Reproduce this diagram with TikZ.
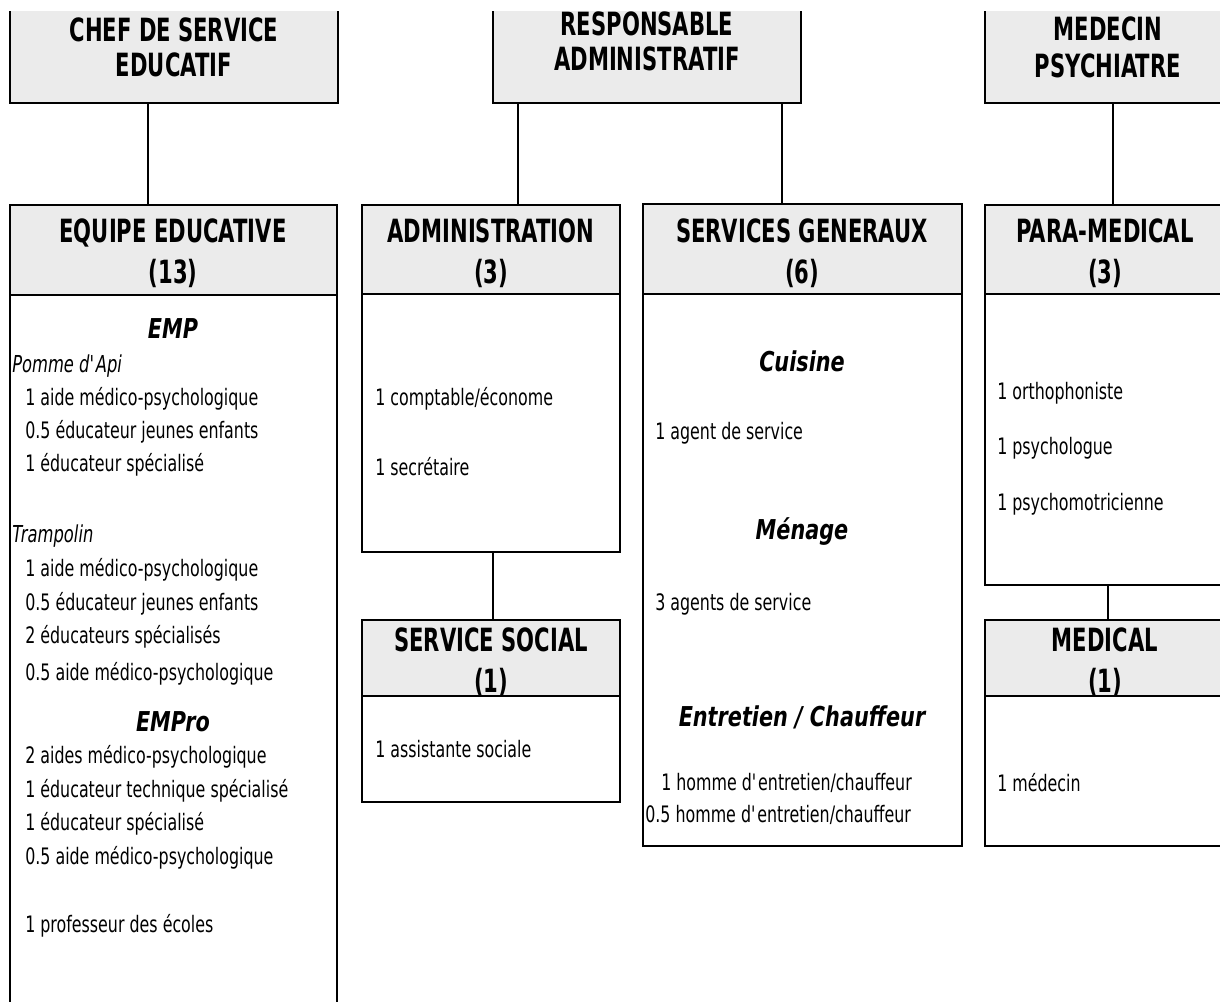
\documentclass[tikz,border=0pt]{standalone}
\usepackage{fontspec}
\setmainfont{DejaVu Sans}[FakeStretch=0.7]
\newfontfamily\hdfont{DejaVu Sans}[FakeStretch=0.66]
\newfontfamily\sbfont{DejaVu Sans}[FakeStretch=0.76]
\begin{document}
\begin{tikzpicture}[x=0.75pt,y=-0.75pt,
  hdr/.style={draw, line width=1.8pt, fill=gray!16, inner sep=0pt, outer sep=0pt},
  bodybox/.style={draw, line width=1.8pt, inner sep=0pt, outer sep=0pt},
  conn/.style={line width=1.1pt},
  htxt/.style={font=\hdfont\bfseries\fontsize{24}{28}\selectfont, anchor=base, inner sep=0pt},
  subhd/.style={font=\sbfont\bfseries\itshape\fontsize{20.5}{24}\selectfont, anchor=base, inner sep=0pt},
  item/.style={font=\fontsize{17}{20}\selectfont, anchor=base west, inner sep=0pt},
  grp/.style={font=\itshape\fontsize{17.5}{20}\selectfont, anchor=base west, inner sep=0pt}]
\newcommand\bx[6]{\node[#2, minimum width={(#5-#3)*0.75pt}, minimum height={(#6-#4)*0.75pt}] (#1) at ({(#3+#5)/2},{(#4+#6)/2}) {};}
\useasboundingbox (0,0) rectangle (1220,1002);
\clip (0,12) rectangle (1220,1002);
% top boxes
\bx{chef}{hdr}{10}{-20}{338}{103}
\bx{resp}{hdr}{493}{-20}{801}{103}
\bx{medpsy}{hdr}{985}{-20}{1240}{103}
\node[htxt] (chefA) at (174,42) {CHEF DE SERVICE};
\node[htxt] (chefB) at (174,77) {EDUCATIF};
\node[htxt] (respA) at (647,36) {RESPONSABLE};
\node[htxt] (respB) at (647,71) {ADMINISTRATIF};
\node[htxt] (medA) at (1108,41) {MEDECIN};
\node[htxt] (medB) at (1108,78) {PSYCHIATRE};
% department boxes
\bx{eqH}{hdr}{10}{205}{337}{295}
\bx{eqB}{bodybox}{10}{295}{337}{1020}
\bx{admH}{hdr}{362}{205}{620}{294}
\bx{admB}{bodybox}{362}{294}{620}{552}
\bx{ssH}{hdr}{362}{620}{620}{696}
\bx{ssB}{bodybox}{362}{696}{620}{802}
\bx{sgH}{hdr}{643}{204}{962}{294}
\bx{sgB}{bodybox}{643}{294}{962}{846}
\bx{pmH}{hdr}{985}{205}{1240}{294}
\bx{pmB}{bodybox}{985}{294}{1240}{585}
\bx{mdH}{hdr}{985}{620}{1240}{696}
\bx{mdB}{bodybox}{985}{696}{1240}{846}
% connectors
\coordinate (c148) at (148,0);
\coordinate (c518) at (518,0);
\coordinate (c782) at (782,0);
\coordinate (c1113) at (1113,0);
\coordinate (c493) at (493,0);
\coordinate (c1108) at (1108,0);
\draw[conn] (chef.south -| c148) -- (eqH.north -| c148);
\draw[conn] (resp.south -| c518) -- (admH.north -| c518);
\draw[conn] (resp.south -| c782) -- (sgH.north -| c782);
\draw[conn] (medpsy.south -| c1113) -- (pmH.north -| c1113);
\draw[conn] (admB.south -| c493) -- (ssH.north -| c493);
\draw[conn] (pmB.south -| c1108) -- (mdH.north -| c1108);
% header texts
\node[htxt] (eqT1) at (173,242) {EQUIPE EDUCATIVE};
\node[htxt] (eqT2) at (173,283) {(13)};
\node[htxt] (admT1) at (491,242) {ADMINISTRATION};
\node[htxt] (admT2) at (491,283) {(3)};
\node[htxt] (sgT1) at (802,242) {SERVICES GENERAUX};
\node[htxt] (sgT2) at (802,283) {(6)};
\node[htxt] (pmT1) at (1105,242) {PARA-MEDICAL};
\node[htxt] (pmT2) at (1105,283) {(3)};
\node[htxt] (ssT1) at (491,651) {SERVICE SOCIAL};
\node[htxt] (ssT2) at (491,692) {(1)};
\node[htxt] (mdT1) at (1105,651) {MEDICAL};
\node[htxt] (mdT2) at (1105,692) {(1)};
% equipe educative body
\node[subhd] (emp) at (173,338) {EMP};
\node[grp] (pomme) at (12,372) {Pomme d\textquotesingle Api};
\node[item] (e1) at (25,405) {1 aide médico-psychologique};
\node[item] (e2) at (25,438) {0.5 éducateur jeunes enfants};
\node[item] (e3) at (25,471) {1 éducateur spécialisé};
\node[grp] (tramp) at (12,542) {Trampolin};
\node[item] (e4) at (25,576) {1 aide médico-psychologique};
\node[item] (e5) at (25,610) {0.5 éducateur jeunes enfants};
\node[item] (e6) at (25,643) {2 éducateurs spécialisés};
\node[item] (e7) at (25,680) {0.5 aide médico-psychologique};
\node[subhd] (empro) at (173,731) {EMPro};
\node[item] (e8) at (25,763) {2 aides médico-psychologique};
\node[item] (e9) at (25,797) {1 éducateur technique spécialisé};
\node[item] (e10) at (25,830) {1 éducateur spécialisé};
\node[item] (e11) at (25,864) {0.5 aide médico-psychologique};
\node[item] (e12) at (25,932) {1 professeur des écoles};
% administration
\node[item] (a1) at (375,405) {1 comptable/économe};
\node[item] (a2) at (375,475) {1 secrétaire};
\node[item] (s1) at (375,757) {1 assistante sociale};
% services generaux
\node[subhd] (cuis) at (802,371) {Cuisine};
\node[item] (g1) at (655,439) {1 agent de service};
\node[subhd] (men) at (802,539) {Ménage};
\node[item] (g2) at (655,610) {3 agents de service};
\node[subhd] (entr) at (802,726) {Entretien / Chauffeur};
\node[item] (g3) at (661,790) {1 homme d\textquotesingle entretien/chauffeur};
\node[item] (g4) at (645,822) {0.5 homme d\textquotesingle entretien/chauffeur};
% para-medical, medical
\node[item] (p1) at (997,399) {1 orthophoniste};
\node[item] (p2) at (997,454) {1 psychologue};
\node[item] (p3) at (997,510) {1 psychomotricienne};
\node[item] (m1) at (997,791) {1 médecin};
\end{tikzpicture}
\end{document}
